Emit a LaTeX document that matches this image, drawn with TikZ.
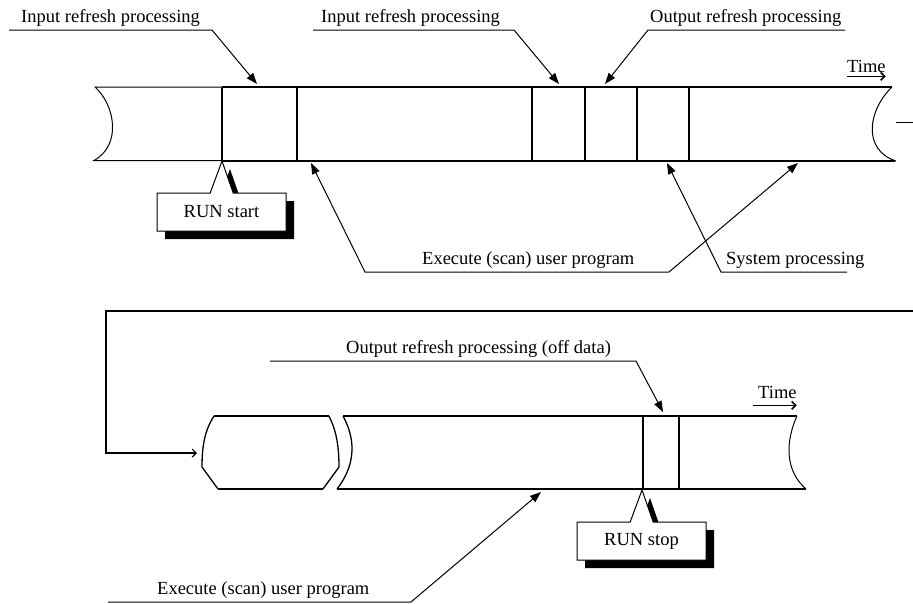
\documentclass[tikz,border=0pt]{standalone}
\usepackage{fontspec}
\setmainfont{Liberation Serif}
\usetikzlibrary{arrows.meta, shapes.callouts, shadows}
\tikzset{
  barthin/.style={line width=1pt},
  barmid/.style={line width=1.3pt},
  barthick/.style={line width=2pt},
  lead/.style={line width=1pt},
  timearr/.style={line width=1.6pt, -{Straight Barb[length=4pt,width=8pt]}},
  backarr/.style={line width=1.2pt, -{Straight Barb[length=4pt,width=8pt]}},
  lbl/.style={inner sep=0pt, anchor=base west},
  runbox/.style={rectangle callout, draw, fill=white, line width=1pt,
    minimum width=129pt, minimum height=38pt, inner sep=0pt,
    callout pointer width=23pt,
    drop shadow={shadow xshift=8pt, shadow yshift=-8pt, fill=black, opacity=1}},
}
\begin{document}
\begin{tikzpicture}[x=1pt, y=-1pt, font=\fontsize{18.5}{22}\selectfont,
  >={Triangle[length=11pt,width=8pt]}]
\useasboundingbox (0,0) rectangle (913,603);

% first scans after RUN
\draw[barthin] (222,87) -- (95,87) .. controls (115,105) and (122,145) .. (94,160.5) -- (222,160.5);
\draw[barthick] (222,87) -- (892,87);
\draw[barthick] (222,160.5) -- (895,160.5);
\draw[barthin] (892,87) .. controls (868,110) and (862,150) .. (896,161);
\foreach \x in {222,297,532,585,637,689} \draw[barthick] (\x,87) -- (\x,160.5);
\draw[barthin] (896,122) -- (913,122);

\node[lbl] (time1) at (847,72) {Time};
\draw[timearr] ([yshift=-4pt]time1.south west) -- ([yshift=-4pt]time1.south east);

\node[lbl] (inA) at (21,22) {Input refresh processing};
\coordinate (inAl) at (9,30);
\coordinate (inAr) at (212,30);
\coordinate (inAt) at (257,84);
\draw[lead, ->] (inAl) -- (inAr) -- (inAt);

\node[lbl] (inB) at (321,22) {Input refresh processing};
\coordinate (inBl) at (313,30);
\coordinate (inBr) at (514,30);
\coordinate (inBt) at (559,84);
\draw[lead, ->] (inBl) -- (inBr) -- (inBt);

\node[lbl] (outA) at (650,22) {Output refresh processing};
\coordinate (outAl) at (648,30);
\coordinate (outAr) at (845,30);
\coordinate (outAt) at (605,84);
\draw[lead, ->] (outAr) -- (outAl) -- (outAt);

\node[lbl] (exA) at (422,264) {Execute (scan) user program};
\coordinate (exAl) at (365,272);
\coordinate (exAr) at (669,272);
\coordinate (exAt) at (311,163);
\coordinate (exBt) at (798,163);
\draw[lead, <->] (exAt) -- (exAl) -- (exAr) -- (exBt);

\node[lbl] (sys) at (726,264) {System processing};
\coordinate (sysl) at (721,272);
\coordinate (sysr) at (847,272);
\coordinate (syst) at (667,163);
\draw[lead, ->] (sysr) -- (sysl) -- (syst);

\coordinate (runA) at (222,161);
\node[runbox, callout absolute pointer={(runA)}] (runstart) at (221.5,212) {RUN start};

% scans before STOP
\coordinate (backR) at (913,311);
\coordinate (backL) at (106,311);
\coordinate (backD) at (106,453);
\coordinate (backT) at (197,453);
\draw[backarr] (backR) -- (backL) -- (backD) -- (backT);

\draw[barmid] (329,416) .. controls (336,430) and (339,445) .. (339,467) -- (323,489);
\draw[barmid] (218,489) -- (202,467) .. controls (202,445) and (205,430) .. (214,416);
\draw[barthick] (214,416) -- (329,416);
\draw[barthick] (218,489) -- (323,489);

\draw[barmid] (343,416) .. controls (354,436) and (358,462) .. (337,489);
\draw[barthick] (343,416) -- (643,416);
\draw[barthick] (337,489) -- (643,489);
\draw[barmid] (643,416) -- (797,416);
\draw[barmid] (643,489) -- (806,489);
\draw[barthin] (797,416) .. controls (786,440) and (784,470) .. (806,489);
\foreach \x in {643,679} \draw[barmid] (\x,416) -- (\x,489);

\node[lbl] (time2) at (758,398) {Time};
\draw[timearr] ([xshift=-5pt,yshift=-7pt]time2.south west) -- ([yshift=-7pt]time2.south east);

\node[lbl] (offd) at (346,353) {Output refresh processing (off data)};
\coordinate (offl) at (270,361);
\coordinate (offr) at (636,361);
\coordinate (offt) at (663,412);
\draw[lead, ->] (offl) -- (offr) -- (offt);

\coordinate (stopA) at (642,490);
\node[runbox, callout absolute pointer={(stopA)}] (runstop) at (641.5,541) {RUN stop};

\node[lbl] (exC) at (157,594) {Execute (scan) user program};
\coordinate (exCl) at (108,602);
\coordinate (exCr) at (411,602);
\coordinate (exCt) at (541,492);
\draw[lead, ->] (exCl) -- (exCr) -- (exCt);
\end{tikzpicture}
\end{document}
